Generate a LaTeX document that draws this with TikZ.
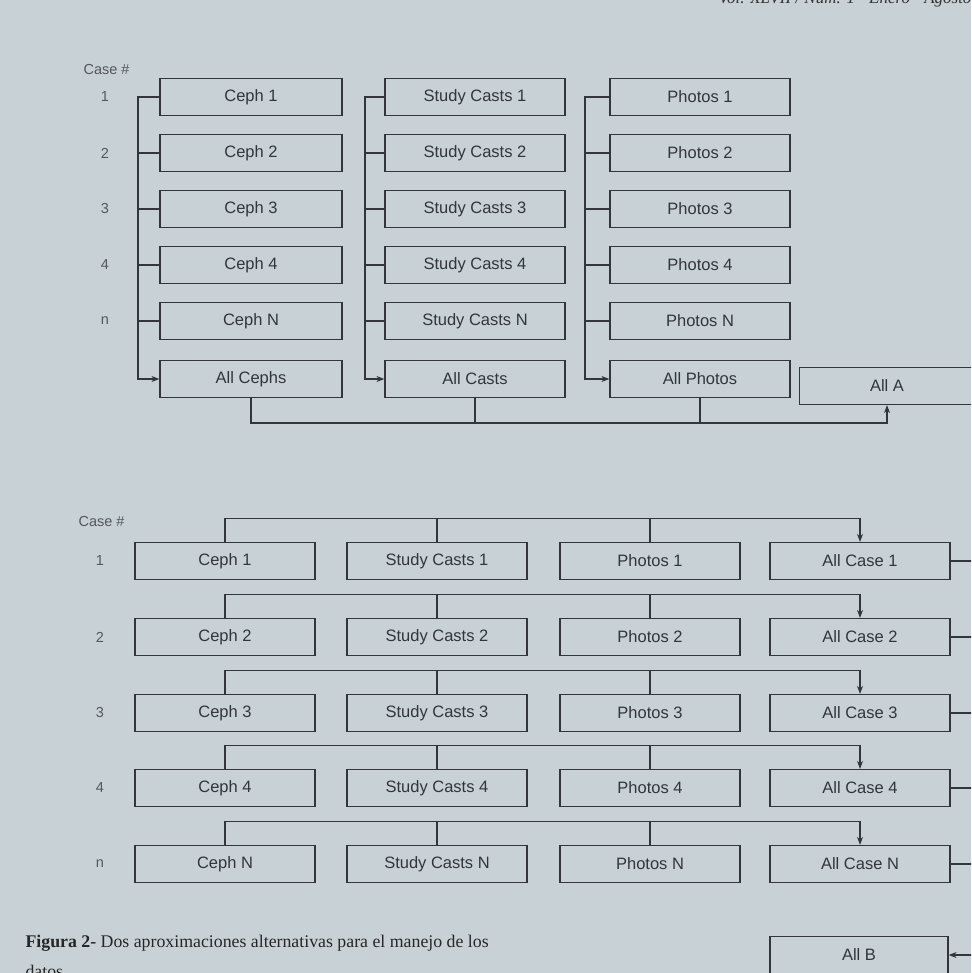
\documentclass[tikz,border=0pt]{standalone}
\usepackage{fontspec}
\setmainfont{Liberation Sans}
\newfontfamily\capfont{Liberation Serif}
\usetikzlibrary{calc,arrows.meta}
\definecolor{paper}{RGB}{200,210,214}
\definecolor{ink}{RGB}{50,54,58}
\definecolor{label}{RGB}{84,88,92}
\tikzset{
  recbox/.style={draw=ink,line width=1.2pt,minimum width=180pt,minimum height=37pt,
    inner sep=0pt,text=ink,font=\fontsize{16.5}{19}\selectfont},
  link/.style={draw=ink,line width=1.1pt},
  casenum/.style={text=label,font=\fontsize{14.5}{17}\selectfont},
}

\begin{document}
\begin{tikzpicture}[x=1pt,y=-1pt,>={Stealth[length=8pt,width=6pt]}]
            \fill[paper] (0,0) rectangle (971,973);
            \useasboundingbox (0,0) rectangle (971,973);
            \clip (0,0) rectangle (971,973);

            \node[anchor=base east,text=black!80,font=\capfont\itshape\fontsize{17}{20}\selectfont] (head) at (975,4) {Vol. XLVII / Núm. 1 - Enero - Agosto};

            % first layout: one folder per record type
            \node[casenum,anchor=west] (caseA) at (80,70) {Case \#};
            \foreach \n/\m/\y [count=\i] in {1/1/97,2/2/153,3/3/209,4/4/265,n/N/321}{
                \node[casenum] (numA-\i) at (105,\y) {\n};
                \node[recbox,minimum width=182pt] (cephA-\i) at (251,\y) {Ceph \m};
                \node[recbox] (castA-\i) at (475,\y) {Study Casts \m};
                \node[recbox] (photoA-\i) at (700,\y) {Photos \m};
            }
            \node[recbox,minimum width=182pt] (cephA-6) at (251,379) {All Cephs};
            \node[recbox] (castA-6) at (475,379) {All Casts};
            \node[recbox] (photoA-6) at (700,379) {All Photos};
            \node[recbox,minimum width=175pt] (allA) at (887,386) {All A};

            \coordinate (jc) at (138,97);
            \coordinate (js) at (365,97);
            \coordinate (jp) at (585,97);
            \draw[link,->] (cephA-1.west) -- (jc) |- (cephA-6.west);
            \draw[link,->] (castA-1.west) -- (js) |- (castA-6.west);
            \draw[link,->] (photoA-1.west) -- (jp) |- (photoA-6.west);
            \foreach \i in {2,...,5}{
                \draw[link] (cephA-\i.west) -- (cephA-\i.west -| jc);
                \draw[link] (castA-\i.west) -- (castA-\i.west -| js);
                \draw[link] (photoA-\i.west) -- (photoA-\i.west -| jp);
            }

            \coordinate (busA) at (887,423);
            \draw[link,->] (cephA-6.south) |- (busA) -- (allA.south);
            \draw[link] (castA-6.south) -- (castA-6.south |- busA);
            \draw[link] (photoA-6.south) -- (photoA-6.south |- busA);

            % second layout: one folder per case
            \coordinate (edge) at (980,0);
            \node[casenum,anchor=west] (caseB) at (75,522) {Case \#};
            \foreach \n/\m/\y [count=\i] in {1/1/561,2/2/637,3/3/713,4/4/788,n/N/864}{
                \node[casenum] (numB-\i) at (100,\y) {\n};
                \node[recbox] (cephB-\i) at (225,\y) {Ceph \m};
                \node[recbox] (castB-\i) at (437,\y) {Study Casts \m};
                \node[recbox] (photoB-\i) at (650,\y) {Photos \m};
                \node[recbox] (allB-\i) at (860,\y) {All Case \m};
                \coordinate (busB-\i) at ($(cephB-\i.north)+(0,-23)$);
                \draw[link,->] (cephB-\i.north) -- (busB-\i) -| (allB-\i.north);
                \draw[link] (castB-\i.north) -- (castB-\i.north |- busB-\i);
                \draw[link] (photoB-\i.north) -- (photoB-\i.north |- busB-\i);
                \draw[link] (allB-\i.east) -- (allB-\i.east -| edge);
            }
            \node[recbox,minimum width=178pt] (allB) at (859,955) {All B};
            \coordinate (edgeB) at (980,955);
            \draw[link,->] (edgeB) -- (allB.east);

            \node[anchor=base west,text=black!85,font=\capfont\fontsize{17.8}{21}\selectfont] (capA) at (22,947) {\textbf{Figura 2-} Dos aproximaciones alternativas para el manejo de los};
            \node[anchor=base west,text=black!85,font=\capfont\fontsize{17.8}{21}\selectfont] (capB) at (22,977) {datos};

        \end{tikzpicture}
\end{document}
